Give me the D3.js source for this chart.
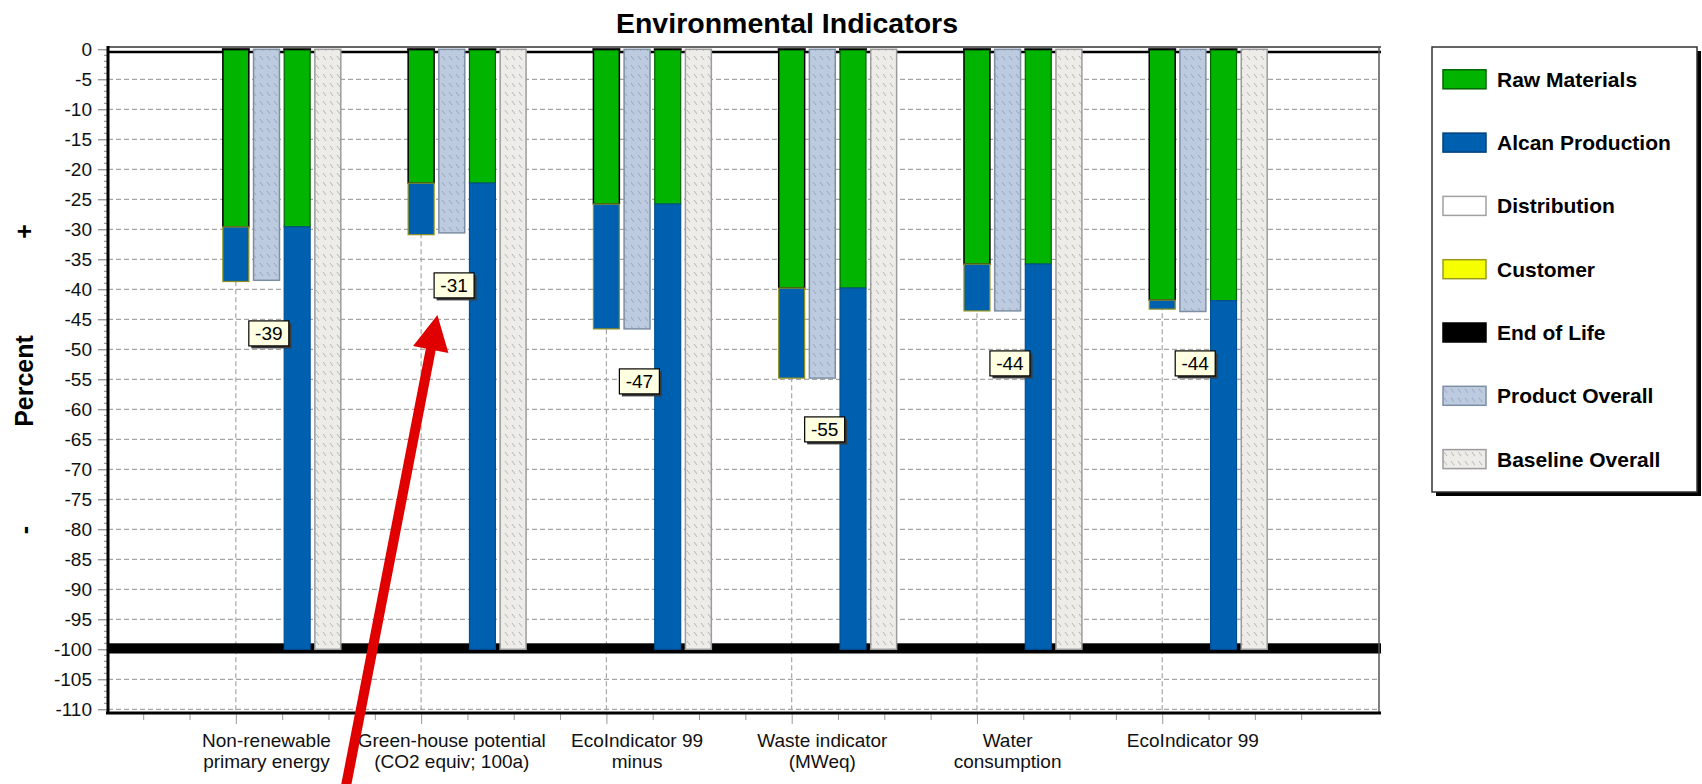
<!DOCTYPE html>
<html>
<head>
<meta charset="utf-8">
<script src="https://cdn.jsdelivr.net/npm/d3@7"></script>
<style>
  body { margin: 0; background: #fff; }
  text { font-family: "Liberation Sans", Arial, sans-serif; }
</style>
</head>
<body>
<div id="chart"></div>
<script>
// Chart data (percent change vs baseline)
const categories = [
  ["Non-renewable", "primary energy"],
  ["Green-house potential", "(CO2 equiv; 100a)"],
  ["EcoIndicator 99", "minus"],
  ["Waste indicator", "(MWeq)"],
  ["Water", "consumption"],
  ["EcoIndicator 99"]
];
const rawMaterials     = [-29.6, -22.3, -25.8, -39.8, -35.8, -41.8];
const alcanProduction  = [-9.1, -8.6, -20.8, -15.0, -7.8, -1.5];
const productOverall   = [-38.5, -30.6, -46.6, -54.8, -43.6, -43.7];
const baselineRaw      = [-29.6, -22.3, -25.8, -39.8, -35.8, -41.9];
const baselineAlcan    = [-70.4, -77.7, -74.2, -60.2, -64.2, -58.1];
const baselineOverall  = [-100, -100, -100, -100, -100, -100];
const totalLabels      = [-39, -31, -47, -55, -44, -44];
const yTicks           = d3.range(0, -111, -5);
const legendKeys       = ["Raw Materials", "Alcan Production", "Distribution", "Customer",
                          "End of Life", "Product Overall", "Baseline Overall"];

// arrow annotation, in chart units (category index, percent)
const arrowTip  = {i: 1.088, v: -44.3};
const arrowTail = {i: 0.59, v: -123.5};

const W = 1702, H = 784;
const svg = d3.select("#chart")
  .append("svg")
  .attr("width", W)
  .attr("height", H);

const defs = svg.append("defs");
function hatch(id, bg, fg) {
  const p = defs.append("pattern")
    .attr("id", id)
    .attr("patternUnits", "userSpaceOnUse")
    .attr("width", 7)
    .attr("height", 9);
  p.append("rect").attr("width", 7).attr("height", 9).attr("fill", bg);
  p.append("path").attr("d", "M1,2L4,6").attr("stroke", fg).attr("stroke-width", 1);
}
hatch("hatchProduct", "#bccbdf", "#98a6b8");
hatch("hatchBaseline", "#edece8", "#b4b4b0");

// scales
const x = d3.scaleLinear().domain([-0.69, 6.17]).range([108, 1379]);
const y = d3.scaleLinear().domain([0, -110]).range([49.3, 709.3]);
const unit = x(1) - x(0);
const barW = 0.14 * unit;
const barStep = 0.1655;

const plotLeft = x(-0.69), plotRight = x(6.17);

// title
svg.append("text")
  .attr("x", 787)
  .attr("y", 33)
  .style("text-anchor", "middle")
  .style("font-size", "28.5px")
  .style("font-weight", "bold")
  .text("Environmental Indicators");

// horizontal gridlines
svg.append("g")
  .selectAll("line")
  .data(yTicks.filter(d => d !== 0))
  .join("line")
  .attr("x1", plotLeft)
  .attr("x2", plotRight)
  .attr("y1", d => y(d))
  .attr("y2", d => y(d))
  .attr("stroke", "#a6a6a6")
  .attr("stroke-width", 1.2)
  .attr("stroke-dasharray", "5,3");

// vertical gridlines at category centres
svg.append("g")
  .selectAll("line")
  .data(categories.map((c, i) => i))
  .join("line")
  .attr("x1", d => x(d))
  .attr("x2", d => x(d))
  .attr("y1", y(0))
  .attr("y2", y(-110.5))
  .attr("stroke", "#a6a6a6")
  .attr("stroke-width", 1.2)
  .attr("stroke-dasharray", "5,3");

// -100 reference band
svg.append("rect")
  .attr("x", plotLeft)
  .attr("y", y(-99))
  .attr("width", plotRight - plotLeft + 2)
  .attr("height", y(-100.7) - y(-99))
  .attr("fill", "#000");

// frame
svg.append("line")
  .attr("x1", plotLeft).attr("x2", plotRight + 2)
  .attr("y1", 47).attr("y2", 47)
  .attr("stroke", "#333").attr("stroke-width", 1.5);
svg.append("line")
  .attr("x1", plotLeft).attr("x2", plotRight + 2)
  .attr("y1", 52).attr("y2", 52)
  .attr("stroke", "#000").attr("stroke-width", 2.5);
svg.append("line")
  .attr("x1", plotRight).attr("x2", plotRight)
  .attr("y1", 47).attr("y2", 713)
  .attr("stroke", "#555").attr("stroke-width", 1.5);

// bars
const stackRows = [];
categories.forEach((c, i) => {
  stackRows.push({i, k: 0, y0: 0, y1: rawMaterials[i], fill: "#00b400", stroke: "#000", sw: 1.5});
  stackRows.push({i, k: 0, y0: rawMaterials[i], y1: rawMaterials[i] + alcanProduction[i], fill: "#0060b0", stroke: "#8f8f1a", sw: 1.2});
  stackRows.push({i, k: 1, y0: 0, y1: productOverall[i], fill: "url(#hatchProduct)", stroke: "#7f8fa3", sw: 1.5});
  stackRows.push({i, k: 2, y0: 0, y1: baselineRaw[i], fill: "#00b400", stroke: "#006400", sw: 1.2});
  stackRows.push({i, k: 2, y0: baselineRaw[i], y1: baselineRaw[i] + baselineAlcan[i], fill: "#0060b0", stroke: "#004f94", sw: 1.2});
  stackRows.push({i, k: 3, y0: 0, y1: baselineOverall[i], fill: "url(#hatchBaseline)", stroke: "#9c9c9c", sw: 1.5});
});

svg.append("g")
  .selectAll("rect")
  .data(stackRows)
  .join("rect")
  .attr("x", d => x(d.i + d.k * barStep) - barW / 2)
  .attr("y", d => y(d.y0))
  .attr("width", barW)
  .attr("height", d => y(d.y1) - y(d.y0))
  .attr("fill", d => d.fill)
  .attr("stroke", d => d.stroke)
  .attr("stroke-width", d => d.sw);

// black caps on the green bars
svg.append("g")
  .selectAll("line")
  .data(stackRows.filter(d => d.y0 === 0 && d.fill === "#00b400"))
  .join("line")
  .attr("x1", d => x(d.i + d.k * barStep) - barW / 2 - 1)
  .attr("x2", d => x(d.i + d.k * barStep) + barW / 2 + 1)
  .attr("y1", y(0))
  .attr("y2", y(0))
  .attr("stroke", "#000")
  .attr("stroke-width", 2);

// value labels
const lab = svg.append("g")
  .selectAll("g")
  .data(totalLabels)
  .join("g")
  .attr("transform", (d, i) => `translate(${x(i + 0.178)},${y(d - 8.35)})`);

lab.append("rect")
  .attr("x", -20 + 2.5).attr("y", -12.5 + 2.5)
  .attr("width", 40).attr("height", 25)
  .attr("fill", "#3a3a3a");
lab.append("rect")
  .attr("x", -20).attr("y", -12.5)
  .attr("width", 40).attr("height", 25)
  .attr("fill", "#ffffe1")
  .attr("stroke", "#000")
  .attr("stroke-width", 1.2);
lab.append("text")
  .attr("y", 7)
  .style("text-anchor", "middle")
  .style("font-size", "19px")
  .text(d => String(d));

// y axis
const yAxis = svg.append("g")
  .attr("transform", `translate(${plotLeft},0)`)
  .call(d3.axisLeft(y).tickValues(yTicks).tickSize(10).tickPadding(6).tickFormat(d => String(d)))
  .call(g => g.select(".domain").remove());
yAxis.selectAll(".tick line").attr("stroke", "#777");
yAxis.selectAll("text")
  .style("font-size", "19px")
  .style("font-family", "'Liberation Sans', Arial, sans-serif")
  .attr("fill", "#111");

svg.append("g")
  .selectAll("line")
  .data(d3.range(0, -111, -1).filter(d => d % 5 !== 0))
  .join("line")
  .attr("x1", plotLeft - 4).attr("x2", plotLeft)
  .attr("y1", d => y(d)).attr("y2", d => y(d))
  .attr("stroke", "#888");

svg.append("line")
  .attr("x1", plotLeft).attr("x2", plotLeft)
  .attr("y1", 46).attr("y2", 714)
  .attr("stroke", "#000").attr("stroke-width", 3);

// x axis
const xAxis = svg.append("g")
  .attr("transform", "translate(0,714)")
  .call(d3.axisBottom(x).tickValues(d3.range(-0.5, 5.76, 0.25)).tickSize(6).tickFormat(""))
  .call(g => g.select(".domain").remove());
xAxis.selectAll(".tick line")
  .attr("stroke", "#999")
  .attr("y2", d => Number.isInteger(d) ? 10 : 6);

svg.append("line")
  .attr("x1", plotLeft - 2).attr("x2", plotRight + 2)
  .attr("y1", 713).attr("y2", 713)
  .attr("stroke", "#000").attr("stroke-width", 3);

const xl = svg.append("g")
  .selectAll("text")
  .data(categories)
  .join("text")
  .attr("x", (d, i) => x(i + barStep))
  .attr("y", 746.5)
  .style("text-anchor", "middle")
  .style("font-size", "19px")
  .attr("fill", "#111");
xl.selectAll("tspan")
  .data(d => d)
  .join("tspan")
  .attr("x", function() { return this.parentNode.getAttribute("x"); })
  .attr("dy", (d, j) => j === 0 ? 0 : 21.5)
  .text(d => d);

// y axis title with + / - markers
[["+", 231.5], ["Percent", 381], ["-", 530]].forEach(([t, cy]) => {
  svg.append("text")
    .attr("transform", `translate(33,${cy})rotate(-90)`)
    .style("text-anchor", "middle")
    .style("font-size", "25px")
    .style("font-weight", "bold")
    .text(t);
});

// legend
const legendColors = {
  "Raw Materials":    ["#00b400", "#006400"],
  "Alcan Production": ["#0060b0", "#00407a"],
  "Distribution":     ["#ffffff", "#a0a0a0"],
  "Customer":         ["#f6ff00", "#9a9a20"],
  "End of Life":      ["#000000", "#000000"],
  "Product Overall":  ["url(#hatchProduct)", "#7f8fa3"],
  "Baseline Overall": ["url(#hatchBaseline)", "#9c9c9c"]
};

const legend = svg.append("g");
legend.append("rect")
  .attr("x", 1436).attr("y", 51)
  .attr("width", 265).attr("height", 445)
  .attr("fill", "#000");
legend.append("rect")
  .attr("x", 1432).attr("y", 47)
  .attr("width", 265).attr("height", 445)
  .attr("fill", "#fff")
  .attr("stroke", "#333")
  .attr("stroke-width", 1.5);

const legendRow = legend.selectAll("g")
  .data(legendKeys)
  .join("g")
  .attr("transform", (_, i) => `translate(1443,${79.3 + i * 63.3})`);

legendRow.append("rect")
  .attr("y", -9.5)
  .attr("width", 43)
  .attr("height", 19)
  .attr("fill", d => legendColors[d][0])
  .attr("stroke", d => legendColors[d][1])
  .attr("stroke-width", 1.5);

legendRow.append("text")
  .attr("x", 54)
  .attr("y", 7.5)
  .style("font-size", "21px")
  .style("font-weight", "bold")
  .text(d => d);

// red arrow annotation
const tip = [x(arrowTip.i), y(arrowTip.v)];
const tail = [x(arrowTail.i), y(arrowTail.v)];
const dx = tip[0] - tail[0], dy = tip[1] - tail[1];
const len = Math.hypot(dx, dy);
const ux = dx / len, uy = dy / len;
const px = -uy, py = ux;
const headLen = 35, headHalf = 18, shaftHalf = 5;
const bx = tip[0] - ux * headLen, by = tip[1] - uy * headLen;
const pts = [
  [tail[0] + px * shaftHalf, tail[1] + py * shaftHalf],
  [bx + px * shaftHalf, by + py * shaftHalf],
  [bx + px * headHalf, by + py * headHalf],
  tip,
  [bx - px * headHalf, by - py * headHalf],
  [bx - px * shaftHalf, by - py * shaftHalf],
  [tail[0] - px * shaftHalf, tail[1] - py * shaftHalf]
];
svg.append("path")
  .attr("d", d3.line()(pts) + "Z")
  .attr("fill", "#e00000");
</script>
</body>
</html>
